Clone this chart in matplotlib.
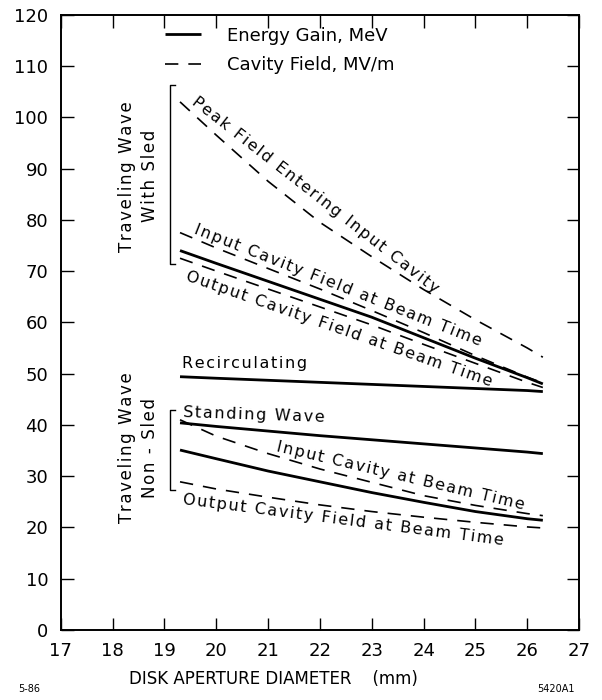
import numpy as np
import matplotlib.pyplot as plt
from matplotlib.lines import Line2D

# disk aperture diameter (mm)
diam = [19.3, 20, 21, 22, 23, 24, 25, 26, 26.3]

# traveling wave with SLED
peak_field = [103.0, 96.5, 87.5, 79.5, 72.8, 66.4, 60.5, 55.0, 53.2]
sled_input_field = [77.5, 74.5, 70.5, 66.5, 62.3, 58.0, 53.5, 49.3, 48.2]
sled_gain = [74.0, 71.5, 68.0, 64.5, 61.0, 57.0, 53.0, 49.2, 48.0]
sled_output_field = [72.5, 70.0, 66.5, 63.0, 59.5, 55.7, 52.0, 48.3, 47.3]

# recirculating / standing wave
recirc_gain = [49.4, 49.1, 48.7, 48.3, 47.9, 47.5, 47.1, 46.7, 46.5]
sw_gain = [40.4, 39.7, 38.8, 37.9, 37.1, 36.3, 35.5, 34.7, 34.4]

# traveling wave, no SLED
nosled_input_field = [41.0, 37.8, 34.4, 31.4, 28.8, 26.2, 24.3, 22.7, 22.3]
nosled_gain = [35.1, 33.4, 31.0, 28.9, 26.8, 24.9, 23.1, 21.7, 21.4]
nosled_output_field = [28.9, 27.5, 25.9, 24.4, 23.1, 22.0, 21.0, 20.1, 19.9]

x_ticks = list(range(17, 28))
y_ticks = list(range(0, 121, 10))


def spaced(s):
    # the original lettering is widely spaced
    return '\u200a'.join(s)


fig = plt.figure(figsize=(6.02, 7.0), dpi=100)
ax = fig.add_axes([0.101, 0.1, 0.861, 0.879])

solid = dict(color='black', lw=2.0, solid_capstyle='butt')
dash = dict(color='black', lw=1.2, dashes=(8, 6))

ax.plot(diam, peak_field, **dash)
ax.plot(diam, sled_input_field, **dash)
ax.plot(diam, sled_gain, **solid)
ax.plot(diam, sled_output_field, **dash)
ax.plot(diam, recirc_gain, **solid)
ax.plot(diam, sw_gain, **solid)
ax.plot(diam, nosled_input_field, **dash)
ax.plot(diam, nosled_gain, **solid)
ax.plot(diam, nosled_output_field, **dash)

ax.set_xlim(17, 27)
ax.set_ylim(0, 120)
ax.set_xticks(x_ticks)
ax.set_yticks(y_ticks)
ax.tick_params(direction='in', top=True, right=True, length=9, width=1,
               labelsize=13, pad=9)
for s in ax.spines.values():
    s.set_linewidth(1.4)

ax.set_xlabel('DISK APERTURE DIAMETER    (mm)', fontsize=12)
ax.xaxis.set_label_coords(0.41, -0.065)

handles = [Line2D([], [], **solid), Line2D([], [], **dash)]
ax.legend(handles, ['Energy Gain, MeV', 'Cavity Field, MV/m'],
          loc='upper left', bbox_to_anchor=(0.17, 1.007), frameon=False,
          fontsize=13, handlelength=2.0, handletextpad=1.4, labelspacing=0.65)


def curve_label(text, x0, series, offset, rot):
    y0 = np.interp(x0, diam, series) + offset
    ax.text(x0, y0, spaced(text), fontsize=11.5, rotation=rot,
            ha='left', va='baseline', rotation_mode='anchor')


curve_label('Peak Field Entering Input Cavity', 19.5, peak_field, 1.6, -38.0)
curve_label('Input Cavity Field at Beam Time', 19.55, sled_input_field, 1.0, -21.5)
curve_label('Output Cavity Field at Beam Time', 19.4, sled_output_field, -4.0, -19.2)
curve_label('Recirculating', 19.34, recirc_gain, 1.8, 0)
curve_label('Standing Wave', 19.36, sw_gain, 1.2, -2)
curve_label('Input Cavity at Beam Time', 21.14, nosled_input_field, 1.0, -13.3)
curve_label('Output Cavity Field at Beam Time', 19.35, nosled_output_field, -4.2, -7.3)

# group labels with brackets
ax.text(18.5, 88.5, spaced('Traveling Wave') + '\n' + spaced('With Sled'),
        rotation=90, fontsize=12, ha='center', va='center', linespacing=1.35)
ax.text(18.5, 35.5, spaced('Traveling Wave') + '\n' + spaced('Non - Sled'),
        rotation=90, fontsize=12, ha='center', va='center', linespacing=1.35)
ax.plot([19.2, 19.1, 19.1, 19.2], [106.2, 106.2, 71.3, 71.3], color='black', lw=1.0)
ax.plot([19.2, 19.1, 19.1, 19.2], [42.9, 42.9, 27.3, 27.3], color='black', lw=1.0)

fig.text(0.03, 0.012, '5-86', fontsize=7)
fig.text(0.955, 0.012, '5420A1', fontsize=7, ha='right')

fig.savefig('out.png', dpi=100)
